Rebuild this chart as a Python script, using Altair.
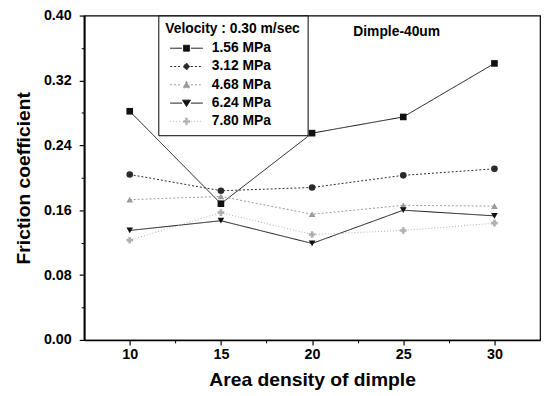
import altair as alt
import pandas as pd

# ---- data ----
density = [10, 15, 20, 25, 30]
series_names = ["1.56 MPa", "3.12 MPa", "4.68 MPa", "6.24 MPa", "7.80 MPa"]
p156 = [0.282, 0.168, 0.255, 0.275, 0.341]
p312 = [0.204, 0.184, 0.188, 0.203, 0.211]
p468 = [0.173, 0.177, 0.155, 0.166, 0.165]
p624 = [0.135, 0.147, 0.119, 0.160, 0.153]
p780 = [0.123, 0.157, 0.130, 0.135, 0.144]
x_ticks = [10, 15, 20, 25, 30]
x_minor = [12.5, 17.5, 22.5, 27.5]
y_ticks = [0.00, 0.08, 0.16, 0.24, 0.32, 0.40]
y_minor = [0.04, 0.12, 0.20, 0.28, 0.36]
note_text = "Dimple-40um"
note_x = [24.64]
note_y = [0.380]
legend_title = "Velocity : 0.30 m/sec"

rows = []
for name, vals in zip(series_names, [p156, p312, p468, p624, p780]):
    for d, v in zip(density, vals):
        rows.append({"density": d, "cof": v, "series": name})
df = pd.DataFrame(rows)
note_df = pd.DataFrame({"x": note_x, "y": note_y, "t": [note_text]})

FONT = "Liberation Sans"
colors = ["#111111", "#2a2a2a", "#9a9a9a", "#111111", "#b0b0b0"]
dashes = [[1, 0], [2, 2], [2, 2], [1, 0], [1, 2]]
shapes = ["square", "circle", "triangle-up", "triangle-down", "cross"]
legend_paths = [
    "M-3.3,0H-0.9M0.9,0H3.3M-0.6,-0.6H0.6V0.6H-0.6Z",
    "M-3.3,0H-0.9M0.9,0H3.3M0,-0.7L0.7,0L0,0.7L-0.7,0Z",
    "M-3.3,0H-0.9M0.9,0H3.3M0,-0.7L0.7,0.6H-0.7Z",
    "M-3.3,0H-0.9M0.9,0H3.3M-0.8,-0.6H0.8L0,0.7Z",
    "M-3.3,0H-0.9M0.9,0H3.3M-0.2,-0.7H0.2V-0.2H0.7V0.2H0.2V0.7H-0.2V0.2H-0.7V-0.2H-0.2Z",
]

xscale = alt.Scale(domain=[7.5, 32.5], nice=False, zero=False)
yscale = alt.Scale(domain=[0, 0.40], nice=False)

x_major = alt.X("density:Q", scale=xscale, axis=alt.Axis(
    values=x_ticks, title="Area density of dimple", format="d",
    grid=False, tickSize=5, labelPadding=3, titlePadding=10,
    labelFont=FONT, labelFontSize=14.5, labelFontWeight="bold", labelColor="#000",
    titleFont=FONT, titleFontSize=19.5, titleFontWeight="bold", titleColor="#000",
    domainColor="#000", domainWidth=1.5, tickColor="#000", tickWidth=1.2))
y_major = alt.Y("cof:Q", scale=yscale, axis=alt.Axis(
    values=y_ticks, title="Friction coefficient", format=".2f",
    grid=False, tickSize=5, labelPadding=8, titlePadding=10,
    labelFont=FONT, labelFontSize=14.5, labelFontWeight="bold", labelColor="#000",
    titleFont=FONT, titleFontSize=19.5, titleFontWeight="bold", titleColor="#000",
    domainColor="#000", domainWidth=2, tickColor="#000", tickWidth=1.2))

color_sc = alt.Scale(domain=series_names, range=colors)
dash_sc = alt.Scale(domain=series_names, range=dashes)

lines = alt.Chart(df).mark_line(strokeWidth=1, clip=False).encode(
    x=x_major, y=y_major,
    color=alt.Color("series:N", scale=color_sc, legend=None),
    strokeDash=alt.StrokeDash("series:N", scale=dash_sc, legend=None),
)

points = alt.Chart(df).mark_point(filled=True, size=45, opacity=1).encode(
    x=alt.X("density:Q", scale=xscale, axis=alt.Axis(
        values=x_minor, labels=False, title=None, domain=False, grid=False,
        orient="bottom", tickSize=3, tickColor="#000", tickWidth=1)),
    y=alt.Y("cof:Q", scale=yscale, axis=alt.Axis(
        values=y_minor, labels=False, title=None, domain=False, grid=False,
        orient="left", tickSize=3, tickColor="#000", tickWidth=1)),
    color=alt.Color("series:N", scale=color_sc, legend=None),
    shape=alt.Shape("series:N", scale=alt.Scale(domain=series_names, range=shapes), legend=None),
)

leg = alt.Legend(
    title=legend_title, orient="none", legendX=75, legendY=0,
    strokeColor="#000", padding=7, fillColor="white",
    titleFont=FONT, titleFontSize=14, titleFontWeight="bold", titleColor="#000",
    titlePadding=5,
    labelFont=FONT, labelFontSize=14, labelFontWeight="bold", labelColor="#000",
    symbolSize=100, symbolStrokeWidth=1, symbolOffset=14.5, labelOffset=18.5,
    rowPadding=4.5,
)

legend_layer = alt.Chart(df).transform_filter("false").mark_point(filled=True, opacity=1).encode(
    x=alt.X("density:Q", scale=xscale, axis=None),
    y=alt.Y("cof:Q", scale=yscale, axis=None),
    shape=alt.Shape("series:N", scale=alt.Scale(domain=series_names, range=legend_paths), legend=leg),
    fill=alt.Fill("series:N", scale=alt.Scale(domain=series_names, range=colors), legend=leg),
    stroke=alt.Stroke("series:N", scale=alt.Scale(domain=series_names, range=colors), legend=leg),
    strokeDash=alt.StrokeDash("series:N", scale=alt.Scale(domain=series_names, range=dashes), legend=leg),
)

note = alt.Chart(note_df).mark_text(font=FONT, fontSize=14, fontWeight="bold", color="#000").encode(
    x=alt.X("x:Q", scale=xscale, axis=None),
    y=alt.Y("y:Q", scale=yscale, axis=None),
    text="t:N",
)

chart = alt.layer(lines, points, legend_layer, note).resolve_axis(
    x="independent", y="independent"
).resolve_scale(
    color="independent", shape="independent", fill="independent",
    stroke="independent", strokeDash="independent"
).properties(
    width=461, height=328,
    autosize=alt.AutoSizeParams(type="none"),
    padding={"left": 77, "top": 5.5, "right": 3, "bottom": 52},
).configure_view(stroke="#000", strokeWidth=1.2)

chart.save("out.html", embed_options={"renderer": "svg", "actions": False})
